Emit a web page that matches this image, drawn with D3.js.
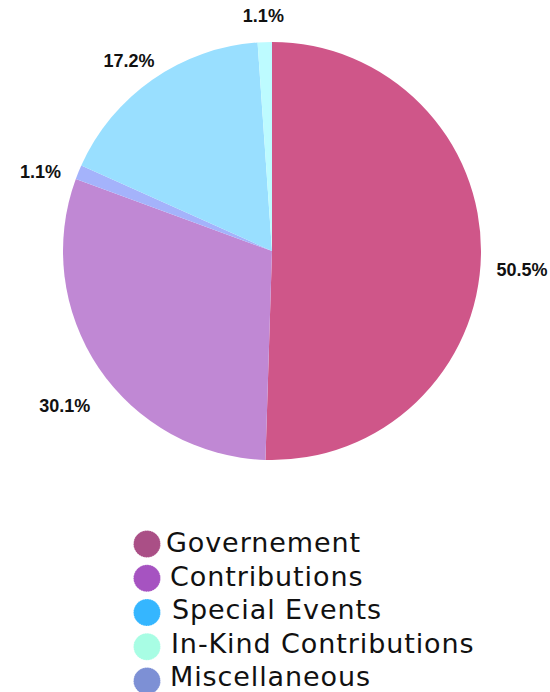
<!DOCTYPE html>
<html>
<head>
<meta charset="utf-8">
<script src="https://cdn.jsdelivr.net/npm/d3@7"></script>
<style>
  body { margin: 0; background: #fff; }
  .pct { font-family: "Liberation Sans", Arial, sans-serif; font-weight: bold; font-size: 18px; fill: #111; }
  .legend-text { font-family: "DejaVu Sans", sans-serif; font-size: 27px; letter-spacing: 0.9px; fill: #111; }
</style>
</head>
<body>
<div id="chart"></div>
<script>
// pie slices, clockwise from 12 o'clock
const categories = ['Governement', 'Contributions', 'Miscellaneous', 'Special Events', 'In-Kind Contributions'];
const values = [50.5, 30.1, 1.1, 17.2, 1.1];
const sliceColors = ['#cf5689', '#c088d4', '#a4b3fb', '#99dfff', '#bdfbff'];

// legend order and marker colours
const legendLabels = ['Governement', 'Contributions', 'Special Events', 'In-Kind Contributions', 'Miscellaneous'];
const legendColors = ['#aa4f86', '#a653c1', '#35b6ff', '#a8fde4', '#7d90d5'];

const width = 550, height = 692;
const cx = 272, cy = 251, radius = 209;

const svg = d3.select('#chart').append('svg')
  .attr('width', width)
  .attr('height', height);

const g = svg.append('g').attr('transform', 'translate(' + cx + ',' + cy + ')');

const pie = d3.pie().sort(null).value((d) => d.value);
const data = categories.map((c, i) => ({ name: c, value: values[i], color: sliceColors[i] }));
const arcs = pie(data);

const arc = d3.arc().innerRadius(0).outerRadius(radius);
const labelArc = d3.arc().innerRadius(250).outerRadius(250);

g.selectAll('path.slice')
  .data(arcs)
  .enter()
  .append('path')
  .attr('class', 'slice')
  .attr('d', arc)
  .attr('fill', (d) => d.data.color);

// percent labels outside the pie
g.selectAll('text.pct')
  .data(arcs)
  .enter()
  .append('text')
  .attr('class', 'pct')
  .attr('text-anchor', 'middle')
  .attr('x', (d) => labelArc.centroid(d)[0])
  .attr('y', (d) => labelArc.centroid(d)[1] + 21)
  .text((d) => d.data.value.toFixed(1) + '%');

///////// Legend //////////
const markerY = d3.scalePoint().domain(legendLabels).range([544, 681]);
const textY = d3.scalePoint().domain(legendLabels).range([552, 686]);
const textX = [166, 170, 172, 171, 170];

const items = svg.selectAll('g.legend-item')
  .data(legendLabels)
  .enter()
  .append('g')
  .attr('class', 'legend-item');

items.append('circle')
  .attr('cx', 147)
  .attr('cy', (d) => markerY(d))
  .attr('r', 13.5)
  .attr('fill', (d, i) => legendColors[i])
  .attr('stroke', '#fff')
  .attr('stroke-opacity', 0.6)
  .attr('stroke-width', 1)
  .attr('stroke-dasharray', '1 1.5');

items.append('text')
  .attr('class', 'legend-text')
  .attr('x', (d, i) => textX[i])
  .attr('y', (d) => textY(d))
  .text((d) => d);
</script>
</body>
</html>
